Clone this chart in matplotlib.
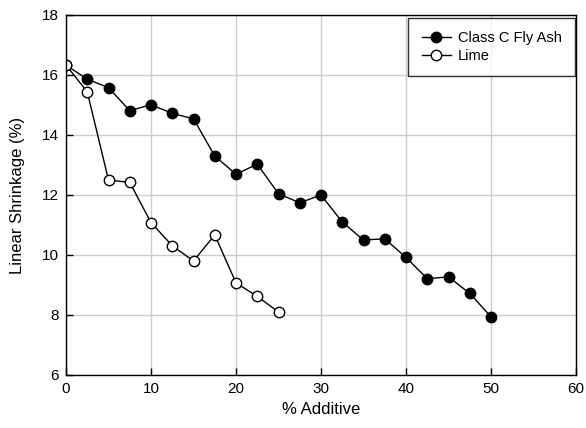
import matplotlib
matplotlib.use("Agg")
import matplotlib.pyplot as plt

plt.rcParams['font.family'] = ['Liberation Sans', 'DejaVu Sans']

x_fly = [0, 2.5, 5, 7.5, 10, 12.5, 15, 17.5, 20, 22.5, 25, 27.5, 30, 32.5, 35,
         37.5, 40, 42.5, 45, 47.5, 50]
y_fly = [16.33, 15.86, 15.58, 14.81, 15.01, 14.72, 14.54, 13.30, 12.69, 13.03,
         12.04, 11.74, 12.0, 11.1, 10.5, 10.54, 9.92, 9.21, 9.27, 8.72, 7.94]
x_lime = [0, 2.5, 5, 7.5, 10, 12.5, 15, 17.5, 20, 22.5, 25]
y_lime = [16.33, 15.44, 12.5, 12.42, 11.08, 10.31, 9.80, 10.67, 9.07, 8.62, 8.1]

xticks = [0, 10, 20, 30, 40, 50, 60]
yticks = [6, 8, 10, 12, 14, 16, 18]

fig = plt.figure(figsize=(5.86, 4.28), dpi=100)
ax = fig.add_axes([66/586, 1-375/428, 510/586, 360/428])

ax.plot(x_fly, y_fly, color='black', lw=1, marker='o', ms=7.5,
        mfc='black', mec='black', label='Class C Fly Ash', zorder=3)
ax.plot(x_lime, y_lime, color='black', lw=1, marker='o', ms=7.5,
        mfc='white', mec='black', mew=1, label='Lime', zorder=3)

ax.set_xlim(0, 60)
ax.set_ylim(6, 18)
ax.set_xticks(xticks)
ax.set_yticks(yticks)
ax.grid(True, color='#cccccc', lw=1, zorder=0)
ax.tick_params(direction='in', length=5, width=1, labelsize=11, pad=5)
for s in ax.spines.values():
    s.set_linewidth(1)
    s.set_zorder(4)

ax.set_xlabel('% Additive', fontsize=12, labelpad=4)
ax.set_ylabel('Linear Shrinkage (%)', fontsize=12, labelpad=12)

leg = ax.legend(loc='upper right', bbox_to_anchor=(0.998, 0.993), fontsize=10.5,
                frameon=True, fancybox=False, edgecolor='black',
                handlelength=2.0, handletextpad=0.5, borderpad=0.9,
                labelspacing=0.3, borderaxespad=0.0)
leg.get_frame().set_linewidth(1)

fig.text(0.5, 1 + 4/428, 'Linear Shrinkage by Type and Percentage of Additive',
         ha='center', va='baseline', fontsize=14, fontweight='bold')

fig.savefig('out.png', dpi=100)
